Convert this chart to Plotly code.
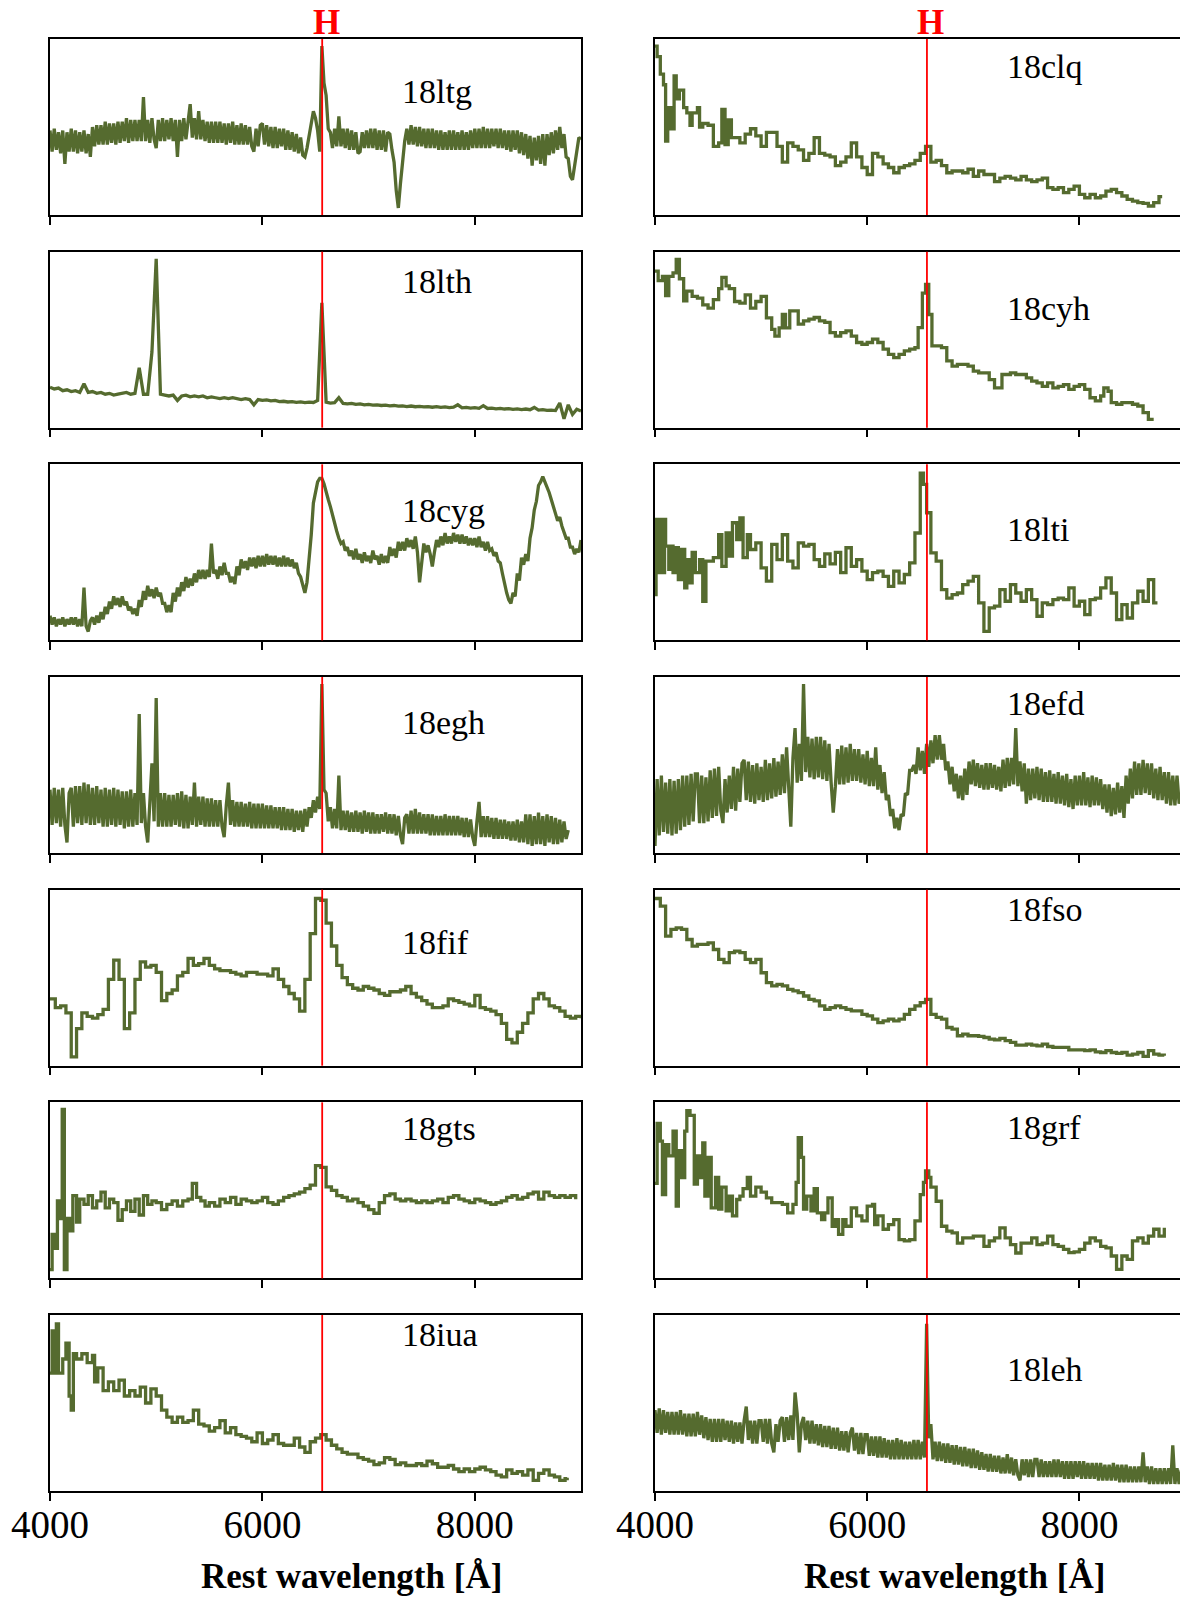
import plotly.graph_objects as go

# ---------------------------------------------------------------------------
# Spectra: rest wavelength [Å] and flux (arbitrary units, 0-100 per panel)
# ---------------------------------------------------------------------------
GRID20 = list(range(4000, 9001, 20))
GRID40 = list(range(4000, 9001, 40))
GRID50 = list(range(4000, 9001, 50))

FLUX_18LTG = [48, 36, 49, 37, 47, 35, 48, 29, 47, 36,
              49, 36, 48, 35, 47, 36, 48, 35, 46, 33,
              50, 39, 51, 40, 51, 40, 53, 40, 52, 41,
              52, 40, 53, 41, 53, 42, 55, 41, 54, 42,
              54, 42, 54, 42, 67, 42, 54, 41, 55, 43,
              38, 54, 42, 55, 42, 54, 43, 55, 42, 54,
              33, 54, 42, 55, 43, 54, 63, 44, 55, 43,
              59, 43, 54, 42, 53, 41, 53, 41, 53, 41,
              53, 41, 52, 40, 52, 41, 53, 40, 51, 40,
              52, 40, 51, 40, 50, 39, 36, 49, 39, 51,
              52, 40, 51, 39, 50, 38, 50, 38, 49, 39,
              49, 37, 48, 37, 47, 36, 46, 35, 44, 34,
              33, 38, 45, 52, 59, 55, 48, 36, 96, 75,
              68, 49, 47, 38, 49, 39, 56, 39, 49, 38,
              49, 37, 48, 37, 47, 35, 36, 47, 38, 48,
              38, 49, 38, 49, 37, 48, 37, 48, 36, 47,
              46, 37, 30, 14, 4, 18, 30, 42, 49, 40,
              51, 40, 50, 39, 50, 39, 49, 38, 49, 38,
              49, 38, 48, 37, 48, 37, 47, 37, 48, 37,
              48, 37, 47, 37, 48, 37, 47, 37, 48, 38,
              49, 38, 49, 38, 50, 38, 49, 38, 49, 39,
              49, 38, 49, 38, 48, 37, 48, 36, 48, 37,
              48, 35, 47, 34, 46, 32, 45, 28, 44, 31,
              45, 29, 46, 28, 46, 34, 47, 35, 48, 37,
              50, 38, 46, 33, 32, 22, 20, 28, 38, 44,
              43]

FLUX_18LTH = [23, 22, 22.5, 21, 21.5, 20.5, 21, 20, 25, 20,
              20.5, 19.5, 20, 19, 19.5, 18.5, 19, 19.5, 20, 19,
              19.5, 34, 19, 19, 43, 96, 19, 18.5, 18, 18.5,
              15.5, 18, 18.5, 17.5, 18, 17.5, 18, 17, 17.5, 17,
              16.5, 17, 16.5, 17, 16.5, 16, 16.5, 16, 13, 16,
              15.5, 15.8, 15.2, 15.5, 14.8, 15, 14.6, 14.8, 14.4, 14.6,
              14.2, 14.5, 14.3, 15.5, 71, 14.5, 14, 14.2, 17, 13.8,
              13.5, 13.8, 13.2, 13.5, 13, 13.2, 12.8, 13, 12.6, 12.8,
              12.4, 12.6, 12.2, 12.4, 12, 12.3, 11.9, 12.1, 11.8, 12,
              11.6, 11.9, 11.5, 11.8, 11.4, 11.6, 13, 11.3, 11.5, 11.1,
              11.4, 11, 12.5, 10.9, 11.1, 10.7, 11, 10.6, 10.8, 10.4,
              10.7, 10.3, 10.6, 10.2, 11.5, 10, 10.2, 9.8, 10, 9.7,
              14, 5, 13, 7.5, 10.5, 9.5]

FLUX_18CYG = [14, 9, 13, 8, 12, 9, 13, 8, 12, 9,
              13, 9, 13, 8, 12, 8, 30, 8, 5, 11,
              13, 9, 14, 10, 16, 12, 19, 15, 22, 18,
              25, 20, 24, 19, 25, 20, 22, 17, 19, 15,
              18, 14, 23, 19, 28, 23, 31, 25, 29, 24,
              30, 25, 27, 21, 21, 16, 20, 16, 27, 22,
              30, 25, 33, 28, 36, 30, 35, 31, 38, 33,
              40, 35, 40, 35, 40, 36, 55, 38, 40, 35,
              42, 37, 44, 38, 38, 33, 36, 32, 42, 37,
              46, 41, 45, 40, 47, 42, 47, 41, 48, 42,
              48, 42, 49, 43, 48, 43, 48, 42, 47, 42,
              48, 42, 47, 42, 46, 41, 44, 38, 36, 31,
              27, 33, 45, 60, 78, 85, 90, 92, 92, 89,
              84, 80, 76, 71, 66, 62, 58, 55, 56, 51,
              53, 48, 51, 46, 52, 46, 49, 44, 50, 45,
              48, 44, 51, 46, 48, 43, 49, 44, 48, 44,
              53, 48, 52, 47, 56, 51, 56, 51, 58, 53,
              57, 52, 59, 50, 33, 45, 55, 50, 54, 49,
              42, 50, 57, 53, 59, 54, 61, 55, 59, 55,
              61, 56, 60, 55, 60, 55, 59, 54, 58, 54,
              58, 53, 59, 53, 56, 51, 56, 51, 52, 48,
              50, 45, 44, 38, 32, 27, 23, 21, 27, 25,
              38, 34, 47, 43, 49, 45, 58, 64, 74, 79,
              88, 90, 93, 90, 88, 84, 80, 75, 72, 68,
              70, 65, 62, 58, 58, 53, 53, 49, 52, 50,
              57]

FLUX_18EGH = [36, 16, 37, 17, 36, 15, 37, 16, 6, 34,
              37, 15, 38, 17, 38, 16, 40, 17, 39, 16,
              37, 16, 38, 17, 36, 15, 37, 15, 36, 16,
              37, 15, 36, 16, 35, 14, 35, 15, 36, 15,
              34, 16, 79, 17, 34, 15, 6, 32, 51, 18,
              88, 15, 34, 15, 34, 15, 33, 15, 33, 16,
              34, 15, 35, 14, 33, 14, 32, 16, 40, 15,
              32, 16, 32, 15, 31, 15, 31, 15, 30, 15,
              30, 15, 9, 27, 40, 16, 30, 15, 29, 15,
              29, 15, 28, 15, 29, 14, 28, 14, 28, 14,
              28, 14, 27, 14, 27, 14, 26, 14, 26, 13,
              26, 13, 25, 13, 25, 12, 24, 13, 24, 12,
              25, 15, 26, 20, 30, 23, 32, 25, 96, 36,
              34, 18, 26, 14, 25, 14, 44, 13, 24, 13,
              24, 12, 23, 12, 24, 12, 23, 11, 24, 12,
              23, 11, 23, 11, 22, 11, 22, 12, 23, 11,
              22, 11, 22, 10, 21, 10, 5, 20, 22, 11,
              24, 11, 25, 11, 23, 11, 22, 11, 22, 10,
              22, 10, 21, 10, 21, 10, 22, 10, 21, 10,
              21, 10, 21, 10, 20, 9, 20, 9, 19, 9,
              4, 18, 29, 9, 21, 9, 21, 9, 20, 8,
              20, 8, 19, 8, 19, 8, 18, 7, 18, 7,
              19, 6, 18, 6, 22, 5, 22, 4, 21, 5,
              23, 5, 21, 4, 22, 6, 21, 5, 20, 5,
              19, 6, 18, 8, 13]

FLUX_18FIF = [38, 33, 34, 30, 5, 21, 30, 28, 27, 29,
              32, 49, 60, 49, 21, 30, 49, 59, 56, 57,
              53, 37, 41, 43, 51, 53, 61, 57, 58, 61,
              57, 55, 54, 54, 53, 52, 51, 53, 53, 52,
              52, 51, 55, 49, 45, 41, 38, 31, 49, 75,
              95, 94, 81, 68, 57, 50, 46, 44, 43, 45,
              44, 43, 41, 40, 42, 42, 43, 45, 41, 39,
              37, 35, 33, 33, 34, 38, 37, 36, 35, 34,
              40, 33, 32, 31, 29, 24, 15, 13, 19, 24,
              30, 38, 41, 38, 34, 33, 31, 28, 27, 28,
              27]

WAVE_18GTS = [4000, 4020, 4045, 4070, 4095, 4115, 4135, 4160, 4185, 4215,
              4250, 4280, 4320, 4360, 4400, 4440, 4480, 4520, 4560, 4600,
              4640, 4680, 4720, 4760, 4800, 4840, 4880, 4920, 4960, 5000,
              5050, 5100, 5150, 5200, 5250, 5300, 5340, 5380, 5420, 5460,
              5500, 5550, 5600, 5650, 5700, 5750, 5800, 5850, 5900, 5950,
              6000, 6050, 6100, 6150, 6200, 6250, 6300, 6350, 6400, 6450,
              6500, 6550, 6600, 6650, 6700, 6750, 6800, 6850, 6900, 6950,
              7000, 7050, 7100, 7150, 7200, 7250, 7300, 7350, 7400, 7450,
              7500, 7550, 7600, 7650, 7700, 7750, 7800, 7850, 7900, 7950,
              8000, 8050, 8100, 8150, 8200, 8250, 8300, 8350, 8400, 8450,
              8500, 8550, 8600, 8650, 8700, 8750, 8800, 8850, 8900, 8950]
FLUX_18GTS = [5, 25, 17, 44, 34, 96, 5, 34, 27, 47,
              32, 45, 42, 47, 40, 44, 49, 40, 45, 43,
              33, 39, 44, 38, 45, 36, 47, 42, 44, 43,
              39, 42, 44, 41, 44, 45, 54, 46, 44, 41,
              43, 41, 45, 43, 46, 42, 45, 44, 43, 44,
              46, 43, 42, 44, 46, 47, 48, 49, 51, 53,
              64, 63, 52, 50, 47, 46, 44, 45, 43, 41,
              39, 37, 43, 47, 48, 45, 44, 45, 44, 43,
              44, 43, 44, 45, 43, 46, 47, 45, 44, 43,
              45, 44, 43, 42, 43, 44, 46, 47, 45, 46,
              48, 49, 45, 49, 47, 46, 47, 46, 47, 45]

WAVE_18IUA = [4000, 4020, 4040, 4060, 4080, 4120, 4150, 4180, 4200, 4220,
              4250, 4300, 4350, 4400, 4420, 4450, 4500, 4550, 4600, 4650,
              4700, 4750, 4800, 4850, 4900, 4950, 5000, 5050, 5100, 5150,
              5200, 5250, 5300, 5350, 5400, 5450, 5500, 5550, 5600, 5650,
              5700, 5750, 5800, 5850, 5900, 5950, 6000, 6050, 6100, 6150,
              6200, 6250, 6300, 6350, 6400, 6450, 6500, 6550, 6600, 6650,
              6700, 6750, 6800, 6850, 6900, 6950, 7000, 7050, 7100, 7150,
              7200, 7250, 7300, 7350, 7400, 7450, 7500, 7550, 7600, 7650,
              7700, 7750, 7800, 7850, 7900, 7950, 8000, 8050, 8100, 8150,
              8200, 8250, 8300, 8350, 8400, 8450, 8500, 8550, 8600, 8650,
              8700, 8750, 8800, 8850, 8870]
FLUX_18IUA = [67, 91, 67, 95, 67, 75, 84, 54, 46, 78,
              75, 78, 73, 77, 62, 70, 57, 62, 57, 63,
              54, 57, 54, 59, 50, 58, 54, 46, 42, 39,
              42, 39, 40, 46, 38, 37, 34, 36, 40, 33,
              36, 32, 31, 30, 28, 33, 27, 29, 32, 27,
              26, 26, 30, 25, 22, 28, 30, 32, 29, 26,
              24, 22, 21, 21, 19, 18, 17, 15, 16, 19,
              18, 15, 16, 14.5, 14.5, 15.5, 14.5, 17, 15.5, 13.5,
              13.5, 14.5, 12.5, 11, 12.5, 11, 12.5, 13.5, 12, 11,
              9, 8, 12, 10, 11, 9, 12, 6, 10, 12,
              9, 8, 6, 7, 7.5]

WAVE_18CLQ = [4000, 4020, 4050, 4080, 4100, 4120, 4150, 4180, 4200, 4230,
              4270, 4300, 4330, 4350, 4400, 4420, 4450, 4500, 4550, 4600,
              4630, 4660, 4690, 4720, 4750, 4800, 4850, 4900, 4950, 5000,
              5050, 5100, 5150, 5200, 5250, 5300, 5350, 5400, 5450, 5500,
              5550, 5600, 5650, 5700, 5750, 5800, 5850, 5900, 5950, 6000,
              6050, 6100, 6150, 6200, 6250, 6300, 6350, 6400, 6450, 6500,
              6550, 6600, 6650, 6700, 6750, 6800, 6850, 6900, 6950, 7000,
              7050, 7100, 7150, 7200, 7250, 7300, 7350, 7400, 7450, 7500,
              7550, 7600, 7650, 7700, 7750, 7800, 7850, 7900, 7950, 8000,
              8050, 8100, 8150, 8200, 8250, 8300, 8350, 8400, 8450, 8500,
              8550, 8600, 8650, 8700, 8750, 8780]
FLUX_18CLQ = [96, 90, 80, 74, 42, 61, 49, 79, 66, 71,
              61, 58, 51, 58, 61, 50, 52, 51, 39, 41,
              60, 40, 54, 44, 44, 41, 46, 49, 45, 39,
              47, 47, 39, 30, 41, 39, 37, 31, 35, 44,
              35, 34, 33, 28, 30, 33, 41, 33, 27, 23,
              35, 33, 29, 27, 24, 27, 28, 29, 31, 35,
              39, 30, 31, 28, 24, 25, 25, 24, 26, 22,
              25, 23, 23, 19, 21, 22, 21, 20, 22, 20,
              19, 20, 21, 15.5, 14.6, 15.5, 12.7, 14.6, 16.4, 11.7,
              9.8, 11.7, 9.8, 10.8, 13.6, 14.6, 12.7, 10.8, 8.9, 7.9,
              7, 6.6, 5.1, 7, 10.4, 10.4]

WAVE_18CYH = [4000, 4030, 4070, 4100, 4130, 4170, 4200, 4230, 4270, 4300,
              4350, 4400, 4450, 4500, 4550, 4600, 4630, 4670, 4700, 4750,
              4800, 4850, 4900, 4950, 5000, 5050, 5100, 5130, 5170, 5200,
              5230, 5270, 5300, 5350, 5400, 5450, 5500, 5550, 5600, 5650,
              5700, 5750, 5800, 5850, 5900, 5950, 6000, 6050, 6100, 6150,
              6200, 6250, 6300, 6350, 6400, 6450, 6480, 6520, 6550, 6580,
              6610, 6650, 6700, 6750, 6800, 6850, 6900, 6950, 7000, 7050,
              7100, 7150, 7200, 7230, 7270, 7300, 7350, 7400, 7450, 7500,
              7550, 7600, 7650, 7700, 7750, 7800, 7850, 7900, 7950, 8000,
              8050, 8100, 8150, 8200, 8230, 8270, 8300, 8350, 8400, 8450,
              8500, 8550, 8600, 8650, 8700]
FLUX_18CYH = [89, 83.5, 86, 75, 86, 88, 95.6, 84.6, 72, 77.6,
              74.6, 73.6, 69.8, 67.9, 72.7, 79, 85.4, 80.6, 79, 71.7,
              70.8, 75.5, 67.9, 71.7, 74.6, 62.4, 55.8, 52, 56.7, 64.3,
              56.7, 66.4, 66.4, 58.8, 60.7, 61.7, 62.6, 60.7, 59.8, 54,
              52, 54, 55, 52, 48.4, 47.4, 48.4, 50.3, 48.4, 44.6,
              41.7, 39.8, 41.7, 43.6, 44.6, 45.5, 56.9, 76.5, 81.4, 64.3,
              46.5, 46.5, 45.5, 37.9, 35, 36, 36, 35, 32.1, 31.1,
              31.1, 27.3, 22.6, 22.6, 30.2, 30.2, 31.1, 30.2, 30.2, 28.3,
              26.4, 25.4, 23.5, 25.4, 22.6, 23.5, 24.5, 21.8, 23.5, 24.5,
              21.8, 17, 15.2, 18, 22.6, 20.7, 14.2, 13.3, 14.2, 14.2,
              13.3, 12.3, 8.5, 4.7, 4.7]

WAVE_18LTI = [4000, 4010, 4030, 4050, 4070, 4090, 4100, 4130, 4150, 4170,
              4200, 4220, 4250, 4280, 4300, 4330, 4350, 4380, 4420, 4450,
              4480, 4550, 4600, 4630, 4670, 4700, 4730, 4770, 4800, 4830,
              4870, 4900, 4950, 5000, 5050, 5100, 5150, 5200, 5250, 5300,
              5350, 5400, 5450, 5500, 5550, 5600, 5650, 5700, 5750, 5800,
              5850, 5900, 5950, 6000, 6050, 6100, 6150, 6200, 6250, 6300,
              6350, 6400, 6450, 6500, 6530, 6560, 6600, 6650, 6700, 6750,
              6800, 6850, 6900, 6950, 7000, 7050, 7100, 7150, 7200, 7250,
              7300, 7350, 7400, 7450, 7500, 7550, 7600, 7650, 7700, 7750,
              7800, 7850, 7900, 7950, 8000, 8050, 8100, 8150, 8200, 8250,
              8300, 8350, 8400, 8450, 8500, 8550, 8600, 8650, 8700, 8720]
FLUX_18LTI = [26, 68.7, 38.5, 68.7, 38.5, 68.7, 53.5, 40.4, 53.5, 38.5,
              52.6, 34.5, 51.6, 29.8, 45.9, 32.6, 50, 38.5, 45.9, 22.2,
              45, 47, 60, 42, 61, 47.8, 66.8, 57.3, 69.6, 47,
              60, 51.6, 55.4, 41.2, 33.6, 54.5, 45.9, 60, 45, 41.2,
              55.4, 53.5, 54.5, 45.9, 42, 49.1, 43.5, 50, 38.5, 52.6,
              42, 45.9, 39.3, 34.5, 38.5, 39.3, 36.4, 30.7, 39.3, 32.6,
              37.4, 44, 61, 95, 88.6, 72.5, 49.7, 45, 28.8, 24,
              26, 26.9, 31.7, 33.6, 36.4, 21.3, 5.1, 18.4, 19.4, 28.8,
              22.2, 31.7, 26.9, 22.2, 28.8, 23.1, 13.7, 21.3, 20.3, 23.1,
              24, 23.1, 29.8, 19.4, 22.2, 14.6, 23.1, 24, 29.8, 35.5,
              26.9, 11.8, 20.3, 12.7, 21.3, 27.9, 22.2, 34.5, 21.3, 22.2]

FLUX_18EFD = [4, 42, 10, 44, 12, 40, 11, 42, 10, 41,
              11, 42, 13, 44, 15, 44, 16, 45, 18, 45,
              45, 17, 44, 17, 43, 18, 47, 20, 48, 21,
              49, 24, 17, 42, 23, 44, 25, 49, 24, 48,
              29, 51, 53, 30, 52, 29, 50, 28, 51, 30,
              49, 29, 53, 30, 51, 31, 54, 32, 52, 33,
              56, 34, 60, 36, 15, 54, 71, 40, 62, 41,
              96, 46, 66, 43, 65, 42, 66, 43, 66, 42,
              64, 41, 62, 40, 23, 38, 59, 39, 61, 39,
              60, 40, 62, 41, 59, 41, 59, 40, 56, 39,
              58, 38, 54, 38, 60, 36, 50, 34, 46, 30,
              33, 21, 25, 14, 20, 13, 22, 21, 34, 33,
              47, 47, 50, 45, 60, 47, 58, 45, 62, 49,
              64, 51, 67, 53, 67, 53, 62, 47, 52, 39,
              49, 35, 45, 31, 44, 30, 48, 33, 52, 39,
              53, 38, 51, 37, 50, 36, 51, 36, 51, 37,
              50, 36, 49, 35, 53, 37, 54, 38, 54, 39,
              71, 38, 52, 35, 51, 28, 48, 30, 48, 31,
              49, 30, 48, 29, 46, 29, 47, 29, 45, 28,
              46, 28, 44, 27, 45, 26, 42, 25, 44, 27,
              44, 27, 46, 27, 43, 26, 44, 27, 43, 27,
              42, 25, 39, 23, 39, 21, 37, 22, 40, 23,
              38, 20, 44, 28, 48, 31, 52, 33, 51, 33,
              53, 34, 51, 33, 51, 31, 48, 30, 49, 30,
              46, 28, 46, 27, 44, 27, 44, 28, 34]

FLUX_18FSO = [95, 90.6, 73.6, 77.4, 78.3, 77.4, 71.7, 67.9, 68.9, 68.9,
              69.8, 66, 60.4, 58.5, 64.2, 65.1, 64.2, 60.4, 58.5, 60.4,
              52.8, 47.2, 45.3, 46.2, 45.3, 43.4, 42.5, 41.5, 39.6, 37.7,
              36.8, 34, 32, 33, 34, 33, 32, 31.1, 31.1, 29.2,
              28.3, 26.4, 24.5, 25.5, 26.4, 25.5, 26.4, 29.2, 32, 34,
              35.8, 37.7, 29.2, 27.4, 26.4, 21.7, 20.8, 17, 17.9, 17,
              17, 16.6, 16, 15.1, 14.7, 15.5, 14.2, 13.2, 11.7, 11.7,
              12.3, 11.7, 11.3, 12.3, 10.9, 10.4, 10.4, 10.4, 9, 9,
              9, 8.5, 9, 7.9, 7.5, 8.5, 7.5, 7, 7.5, 6,
              6.6, 7.5, 5.3, 8.5, 6.6, 6, 5.7]

WAVE_18GRF = [4000, 4020, 4050, 4070, 4100, 4130, 4170, 4200, 4220, 4250,
              4280, 4300, 4330, 4370, 4400, 4430, 4450, 4470, 4500, 4530,
              4570, 4600, 4630, 4670, 4700, 4730, 4770, 4800, 4830, 4870,
              4900, 4950, 5000, 5050, 5100, 5150, 5200, 5250, 5300, 5330,
              5350, 5380, 5400, 5430, 5470, 5500, 5530, 5570, 5600, 5630,
              5670, 5700, 5730, 5770, 5800, 5850, 5900, 5950, 6000, 6050,
              6070, 6100, 6150, 6200, 6250, 6300, 6350, 6400, 6450, 6500,
              6530, 6550, 6580, 6600, 6650, 6700, 6750, 6800, 6850, 6900,
              6950, 7000, 7050, 7100, 7150, 7200, 7250, 7300, 7350, 7400,
              7450, 7500, 7550, 7600, 7650, 7700, 7750, 7800, 7850, 7900,
              7950, 8000, 8050, 8100, 8150, 8200, 8250, 8300, 8350, 8400,
              8450, 8500, 8550, 8600, 8650, 8700, 8750, 8800]
FLUX_18GRF = [54, 88, 78, 47.6, 76, 69.6, 83.7, 41, 72.5, 57.3,
              83.7, 95.3, 92.6, 53.5, 69.6, 57.3, 77, 46.7, 68.7, 40,
              57.3, 39.3, 51.8, 38.3, 46.7, 35.5, 44.8, 46.7, 51, 57.3,
              46.7, 51.8, 49, 45.7, 43, 43, 42, 37.2, 42, 54.5,
              80, 68.7, 39.3, 46.7, 38.3, 51, 37.2, 33.4, 37.2, 45.7,
              29.6, 33.4, 25, 33.4, 29.6, 40, 35.5, 32.6, 41, 42,
              30.5, 35.5, 27.9, 30.5, 33.4, 22, 21.3, 22, 32.6, 47.6,
              54.5, 61, 57.3, 51.8, 43.8, 29.6, 26.8, 25.8, 20, 23,
              23, 24, 24, 18.2, 21.3, 23, 28.7, 23, 19.2, 14.4,
              20, 20, 23, 19.2, 20, 24, 19.2, 18.2, 16.5, 14.6,
              15, 16.5, 20, 23, 21.3, 18.2, 17.3, 12.7, 5.1, 12.7,
              10.8, 21.3, 23, 20, 24, 27.9, 24, 28.7]

FLUX_18LEH = [46, 33, 47, 32, 46, 33, 45, 32, 45, 32,
              45, 32, 46, 32, 44, 31, 44, 31, 44, 31,
              45, 32, 43, 30, 42, 29, 41, 28, 41, 28,
              41, 28, 41, 29, 40, 28, 40, 27, 39, 28,
              39, 27, 40, 48, 29, 40, 27, 40, 27, 40,
              40, 28, 41, 27, 41, 27, 22, 38, 28, 40,
              42, 28, 42, 29, 43, 29, 56, 44, 22, 38,
              42, 29, 40, 27, 40, 27, 38, 26, 38, 25,
              37, 25, 37, 24, 36, 24, 36, 23, 34, 23,
              34, 22, 33, 36, 23, 33, 21, 33, 21, 32,
              32, 20, 31, 20, 31, 19, 31, 19, 30, 19,
              29, 18, 29, 18, 30, 18, 29, 18, 28, 18,
              28, 18, 29, 18, 29, 18, 28, 19, 95, 30,
              38, 18, 28, 17, 28, 17, 27, 16, 27, 16,
              26, 15, 26, 15, 25, 14, 25, 14, 24, 13,
              24, 13, 23, 12, 22, 12, 21, 11, 21, 11,
              20, 11, 20, 10, 19, 10, 21, 10, 19, 9,
              18, 9, 6, 18, 9, 18, 8, 18, 8, 18,
              18, 8, 18, 8, 17, 8, 17, 8, 18, 8,
              18, 8, 17, 7, 17, 7, 17, 7, 17, 8,
              17, 7, 17, 7, 16, 7, 16, 7, 16, 6,
              16, 6, 15, 6, 15, 6, 16, 6, 15, 5,
              15, 5, 15, 5, 14, 5, 14, 5, 14, 5,
              22, 5, 14, 4, 14, 4, 13, 4, 13, 4,
              13, 4, 13, 4, 26, 4, 13, 4, 12]

# ---------------------------------------------------------------------------
# Panel arrangement: (name, column, row, wavelengths, flux, drawing style)
# ---------------------------------------------------------------------------
PANELS = [
    ("18ltg", 0, 0, GRID20, FLUX_18LTG, "linear"),
    ("18lth", 0, 1, GRID40, FLUX_18LTH, "linear"),
    ("18cyg", 0, 2, GRID20, FLUX_18CYG, "linear"),
    ("18egh", 0, 3, GRID20, FLUX_18EGH, "linear"),
    ("18fif", 0, 4, GRID50, FLUX_18FIF, "hv"),
    ("18gts", 0, 5, WAVE_18GTS, FLUX_18GTS, "hv"),
    ("18iua", 0, 6, WAVE_18IUA, FLUX_18IUA, "hv"),
    ("18clq", 1, 0, WAVE_18CLQ, FLUX_18CLQ, "hv"),
    ("18cyh", 1, 1, WAVE_18CYH, FLUX_18CYH, "hv"),
    ("18lti", 1, 2, WAVE_18LTI, FLUX_18LTI, "hv"),
    ("18efd", 1, 3, GRID20, FLUX_18EFD, "linear"),
    ("18fso", 1, 4, GRID50, FLUX_18FSO, "hv"),
    ("18grf", 1, 5, WAVE_18GRF, FLUX_18GRF, "hv"),
    ("18leh", 1, 6, GRID20, FLUX_18LEH, "linear"),
]

H_ALPHA = 6563.0
LABEL_X = 7300
XTICKS = [4000, 6000, 8000]

# vertical placement of the object names inside their panels (fraction of height)
LABEL_Y = {
    "18ltg": 0.70, "18lth": 0.83, "18cyg": 0.74, "18egh": 0.74, "18fif": 0.70,
    "18gts": 0.85, "18iua": 0.89, "18clq": 0.845, "18cyh": 0.675, "18lti": 0.63,
    "18efd": 0.85, "18fso": 0.885, "18grf": 0.855, "18leh": 0.69,
}

# ---------------------------------------------------------------------------
# Layout geometry (pixels)
# ---------------------------------------------------------------------------
W, H = 1180, 1602
COL_X = [(50, 581), (655, 1180)]
COL_XMAX = [9000, 8948]
ROW_TOP0, ROW_PITCH, ROW_H = 39, 212.67, 176

OLIVE = "#556B2F"
SERIF = "Liberation Serif, Times New Roman, serif"

fig = go.Figure()
layout = dict(
    width=W, height=H,
    margin=dict(l=0, r=0, t=0, b=0, autoexpand=False),
    paper_bgcolor="white", plot_bgcolor="white",
    showlegend=False,
    font=dict(family=SERIF, color="black"),
)
shapes, annotations = [], []

for k, (name, col, row, wave, flux, style) in enumerate(PANELS, start=1):
    suffix = "" if k == 1 else str(k)
    xa, ya = "x" + suffix, "y" + suffix
    top = ROW_TOP0 + row * ROW_PITCH
    bot = top + ROW_H
    x0, x1 = COL_X[col]

    fig.add_trace(go.Scatter(
        x=wave, y=flux, mode="lines", xaxis=xa, yaxis=ya,
        line=dict(color=OLIVE, width=3.3, shape=style),
        hoverinfo="skip",
    ))

    layout["xaxis" + suffix] = dict(
        domain=[x0 / W, x1 / W], range=[4000, COL_XMAX[col]], anchor=ya,
        showline=True, mirror=True, linecolor="black", linewidth=1.5,
        ticks="outside", tickvals=XTICKS, ticklen=8, tickwidth=1.5,
        tickcolor="black", showticklabels=(row == 6), ticklabelstandoff=-10,
        tickfont=dict(family=SERIF, size=39, color="black"),
        showgrid=False, zeroline=False, fixedrange=True, automargin=False,
    )
    layout["yaxis" + suffix] = dict(
        domain=[1 - bot / H, 1 - top / H], range=[0, 100], anchor=xa,
        showline=True, mirror=(col == 0), linecolor="black", linewidth=1.5,
        ticks="", showticklabels=False, showgrid=False, zeroline=False,
        fixedrange=True, automargin=False,
    )

    # H-alpha marker
    shapes.append(dict(
        type="line", xref=xa, yref=ya + " domain",
        x0=H_ALPHA, x1=H_ALPHA, y0=0, y1=1,
        line=dict(color="red", width=1.8), layer="above",
    ))

    annotations.append(dict(
        xref=xa, yref=ya + " domain", x=LABEL_X, y=LABEL_Y[name],
        xanchor="left", yanchor="middle", text=name, showarrow=False,
        font=dict(family=SERIF, size=34, color="black"),
    ))

    if row == 0:
        annotations.append(dict(
            xref=xa, yref="paper", x=H_ALPHA, y=1 - 22 / H, xshift=4,
            xanchor="center", yanchor="middle", text="<b>H</b>",
            showarrow=False, font=dict(family=SERIF, size=35, color="red"),
        ))
    if row == 6:
        cx = (351.5 if col == 0 else 954.5) / W
        annotations.append(dict(
            xref="paper", yref="paper", x=cx, y=1 - 1576 / H,
            xanchor="center", yanchor="middle",
            text="<b>Rest wavelength [Å]</b>", showarrow=False,
            font=dict(family=SERIF, size=35, color="black"),
        ))

layout["shapes"] = shapes
layout["annotations"] = annotations
fig.update_layout(**layout)

fig.write_html("out.html")
